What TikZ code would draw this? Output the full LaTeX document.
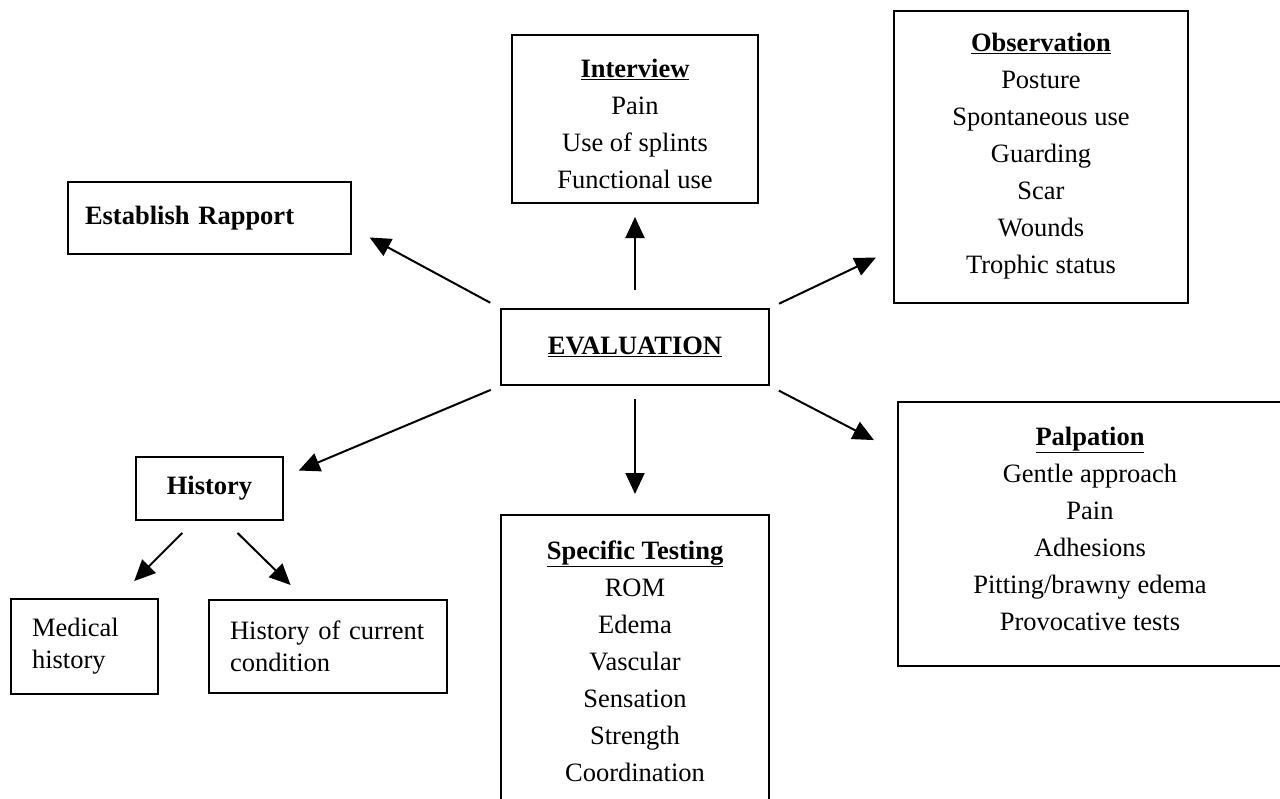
\documentclass[tikz,border=0pt]{standalone}
\usepackage{fontspec}
\setmainfont{Liberation Serif}
\usetikzlibrary{arrows.meta}

\tikzset{
    box/.style={draw, line width=2pt, inner sep=0pt, align=center,
        font=\fontsize{26.5}{37}\selectfont},
    list/.style={inner sep=0pt, align=center, font=\fontsize{26.5}{37}\selectfont},
    plain/.style={box, align=left, font=\fontsize{26.5}{32}\selectfont},
    arr/.style={line width=2pt, -{Triangle[length=21pt,width=19pt]}},
}

\begin{document}
\begin{tikzpicture}[x=1pt, y=-1pt]
    \useasboundingbox (0,0) rectangle (1280,798);
    \clip (0,0) rectangle (1280,798);

    \node[box, minimum width=268pt, minimum height=76pt] (eval) at (635,347) {\underline{\textbf{EVALUATION}}};

    \node[box, minimum width=246pt, minimum height=168pt] (intv) at (635,119) {};
    \node[list] (intvlist) at (635,124)
        {\underline{\textbf{Interview}}\\ Pain\\ Use of splints\\ Functional use};
    \node[box, minimum width=294pt, minimum height=292pt] (obs) at (1041,157) {};
    \node[list] (obslist) at (1041,156)
        {\underline{\textbf{Observation}}\\ Posture\\ Spontaneous use\\ Guarding\\ Scar\\ Wounds\\ Trophic status};
    \node[box, minimum width=384pt, minimum height=264pt] (pal) at (1090,534) {};
    \node[list] (pallist) at (1090,529)
        {\underline{\textbf{Palpation}}\\ Gentle approach\\ Pain\\ Adhesions\\ Pitting/brawny edema\\ Provocative tests};
    \node[box, minimum width=268pt, minimum height=292pt] (spec) at (635,661) {};
    \node[list] (speclist) at (635,661)
        {\underline{\textbf{Specific Testing}}\\ ROM\\ Edema\\ Vascular\\ Sensation\\ Strength\\ Coordination};
    \node[box, minimum width=283pt, minimum height=72pt, text width=249pt, align=left] (rapport) at (209.5,218)
        {\textbf{Establish Rapport}};

    \node[box, minimum width=147pt, minimum height=63pt] (hist) at (209.5,488.5) {\textbf{History}};
    \node[plain, minimum width=147pt, minimum height=95pt, text width=105pt] (med) at (84.5,646.5)
        {Medical\\ history};
    \node[plain, minimum width=238pt, minimum height=93pt, text width=196pt] (cur) at (328,646.5)
        {History of current\\ condition};

    \foreach \from/\to/\s/\e in {north/intv.south/18/13, south/spec.north/13/20,
        north east/obs.212/10/19, south east/pal.157.6/10/26,
        north west/rapport.356.8/11/20, south west/hist.9.7/10/16} {
        \draw[arr, shorten <=\s pt, shorten >=\e pt] (eval.\from) -- (\to);
    }

    \draw[arr, shorten <=17pt, shorten >=24pt] (hist.245.3) -- (med.56.4);
    \draw[arr, shorten <=17pt, shorten >=20pt] (hist.296.2) -- (cur.116.3);
\end{tikzpicture}
\end{document}
